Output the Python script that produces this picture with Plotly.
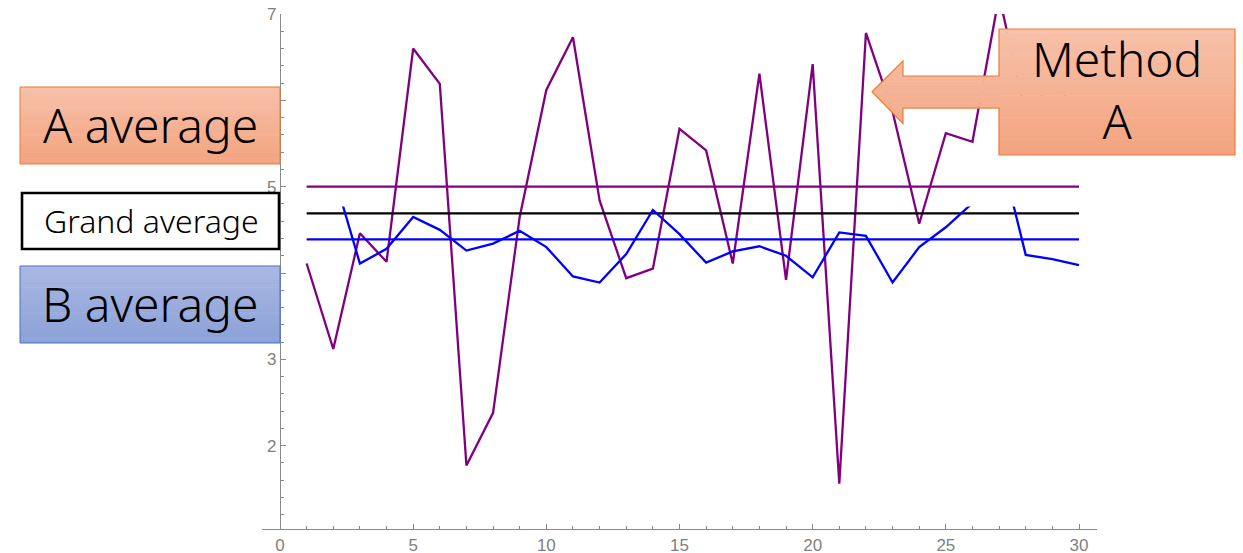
import plotly.graph_objects as go

W, H = 1243, 553

# ---------------- data ----------------
x_vals = list(range(1, 31))
method_a = [4.11, 3.12, 4.46, 4.13, 6.60, 6.19, 1.77, 2.38, 4.65, 6.12,
            6.73, 4.84, 3.94, 4.05, 5.67, 5.42, 4.11, 6.31, 3.92, 6.42,
            1.56, 6.78, 5.87, 4.57, 5.62, 5.52, 7.21, 5.83, 6.20, 5.90]
method_b = [5.20, 5.16, 4.11, 4.28, 4.65, 4.50, 4.26, 4.34, 4.49, 4.30,
            3.96, 3.89, 4.22, 4.73, 4.45, 4.12, 4.25, 4.31, 4.20, 3.95,
            4.47, 4.43, 3.89, 4.30, 4.53, 4.81, 5.46, 4.21, 4.16, 4.09]
a_average = 5.00
grand_average = 4.69
b_average = 4.39
b_clip_top = 4.77          # plot range of the B series (Mathematica clipping)

label_a = "A average"
label_grand = "Grand average"
label_b = "B average"
label_method = "Method<br>A"

# ---------------- geometry ----------------
X_RANGE = [-0.676, 30.676]
Y_RANGE = [1.035, 7.0]
XD = [262 / W, 1097 / W]
YD = [1 - 529 / H, 1 - 14 / H]
clip_top = YD[0] + (b_clip_top - Y_RANGE[0]) / (Y_RANGE[1] - Y_RANGE[0]) * (YD[1] - YD[0])

AX_COL = "#8a8a8a"
TICK_FONT = dict(family="Liberation Sans Narrow, Liberation Sans, Arial, sans-serif", size=17, color="#808080")


def px(x):
    return x / W


def py(y):
    return 1 - y / H


fig = go.Figure()

fig.add_trace(go.Scatter(x=x_vals, y=method_a, mode="lines",
                         line=dict(color="#800080", width=2.3),
                         xaxis="x", yaxis="y", showlegend=False, hoverinfo="skip"))
for val, col in [(a_average, "#800080"), (grand_average, "#000000"), (b_average, "#0000ff")]:
    fig.add_trace(go.Scatter(x=[x_vals[0], x_vals[-1]], y=[val, val], mode="lines",
                             line=dict(color=col, width=2.3),
                             xaxis="x", yaxis="y", showlegend=False, hoverinfo="skip"))
fig.add_trace(go.Scatter(x=x_vals, y=method_b, mode="lines",
                         line=dict(color="#0000ff", width=2.3),
                         xaxis="x2", yaxis="y2", showlegend=False, hoverinfo="skip"))

# ---------------- decoration shapes ----------------
shapes = []


def lerp(c0, c1, t):
    return "rgb(%d,%d,%d)" % tuple(round(a + (b - a) * t) for a, b in zip(c0, c1))


def grad_rect(x0, y0, x1, y1, ctop, cbot, n=40):
    for i in range(n):
        ya = y0 + (y1 - y0) * i / n
        yb = y0 + (y1 - y0) * (i + 1) / n
        shapes.append(dict(type="rect", xref="paper", yref="paper", layer="above",
                           x0=px(x0), x1=px(x1), y0=py(ya), y1=py(min(yb + 0.6, y1)),
                           fillcolor=lerp(ctop, cbot, (i + 0.5) / n), line=dict(width=0)))


def outline_rect(x0, y0, x1, y1, color, width):
    shapes.append(dict(type="rect", xref="paper", yref="paper", layer="above",
                       x0=px(x0), x1=px(x1), y0=py(y0), y1=py(y1),
                       fillcolor="rgba(0,0,0,0)", line=dict(color=color, width=width)))


ORANGE_T, ORANGE_B = (247, 193, 170), (243, 163, 126)
BLUE_T, BLUE_B = (170, 184, 226), (139, 161, 216)

# A average box
grad_rect(20, 87, 280, 164, ORANGE_T, ORANGE_B)
outline_rect(20, 87, 280, 164, "#ED7D31", 1)
# Grand average box
shapes.append(dict(type="rect", xref="paper", yref="paper", layer="above",
                   x0=px(22), x1=px(279), y0=py(193), y1=py(249),
                   fillcolor="white", line=dict(color="black", width=2.6)))
# B average box
grad_rect(20, 266, 280, 343, BLUE_T, BLUE_B)
outline_rect(20, 266, 280, 343, "#4472C4", 1)

# Method A callout (box + left arrow)
BX0, BY0, BX1, BY1 = 999, 29, 1235, 155
TIPX, TIPY = 872, 91.7
HX, HTOP, HBOT = 903, 61, 123.5
STOP, SBOT = 76, 108


def xl(y):
    if y <= TIPY:
        return TIPX + (HX - TIPX) * (TIPY - y) / (TIPY - HTOP)
    return TIPX + (HX - TIPX) * (y - TIPY) / (HBOT - TIPY)


edges = sorted(set([HTOP + (HBOT - HTOP) * i / 40 for i in range(41)] + [STOP, TIPY, SBOT]))
for ya, yb in zip(edges[:-1], edges[1:]):
    ym = (ya + yb) / 2
    xr = BX0 + 1 if STOP <= ym <= SBOT else HX
    t = (ym - BY0) / (BY1 - BY0)
    pts = [(xl(ya), ya), (xr, ya), (xr, yb + 0.5), (xl(yb), yb + 0.5)]
    path = "M " + " L ".join("%f,%f" % (px(a), py(b)) for a, b in pts) + " Z"
    shapes.append(dict(type="path", xref="paper", yref="paper", layer="above", path=path,
                       fillcolor=lerp(ORANGE_T, ORANGE_B, t), line=dict(width=0)))
grad_rect(BX0, BY0, BX1, BY1, ORANGE_T, ORANGE_B)
outline = [(BX0, BY0), (BX1, BY0), (BX1, BY1), (BX0, BY1), (BX0, SBOT), (HX, SBOT),
           (HX, HBOT), (TIPX, TIPY), (HX, HTOP), (HX, STOP), (BX0, STOP)]
shapes.append(dict(type="path", xref="paper", yref="paper", layer="above",
                   path="M " + " L ".join("%f,%f" % (px(a), py(b)) for a, b in outline) + " Z",
                   fillcolor="rgba(0,0,0,0)", line=dict(color="#ED7D31", width=1.2)))

BIG = dict(family="Noto Sans, Open Sans, sans-serif", size=48, color="black", weight=300)
annotations = [
    dict(text=label_a, x=px(150), y=py(124.5), font=BIG),
    dict(text=label_grand, x=px(151), y=py(220.5),
         font=dict(family="Noto Sans, Open Sans, sans-serif", size=32, color="black", weight=300)),
    dict(text=label_b, x=px(150), y=py(303.5), font=BIG),
    dict(text=label_method, x=px(1117), y=py(90), font=BIG),
]
for a in annotations:
    a.update(xref="paper", yref="paper", xanchor="center", yanchor="middle", showarrow=False)

fig.update_layout(
    width=W, height=H,
    margin=dict(l=0, r=0, t=0, b=0, autoexpand=False),
    paper_bgcolor="white", plot_bgcolor="rgba(0,0,0,0)",
    showlegend=False,
    shapes=shapes, annotations=annotations,
    xaxis=dict(domain=XD, range=X_RANGE, anchor="y", showgrid=False, zeroline=False,
               automargin=False,
               showline=True, linecolor=AX_COL, linewidth=1.2,
               tickmode="linear", tick0=0, dtick=5, ticks="inside", ticklen=5,
               tickcolor=AX_COL, tickwidth=1, tickfont=TICK_FONT,
               minor=dict(tick0=0, dtick=1, ticks="inside", ticklen=2.5, tickcolor=AX_COL, tickwidth=1)),
    yaxis=dict(domain=YD, range=Y_RANGE, anchor="free", position=280 / W,
               showgrid=False, zeroline=False, automargin=False,
               showline=True, linecolor=AX_COL, linewidth=1.2,
               tickmode="linear", tick0=0, dtick=1, ticks="inside", ticklen=5,
               tickcolor=AX_COL, tickwidth=1, tickfont=TICK_FONT,
               minor=dict(tick0=0, dtick=0.2, ticks="inside", ticklen=2.5, tickcolor=AX_COL, tickwidth=1)),
    xaxis2=dict(domain=XD, range=X_RANGE, anchor="y2", visible=False, automargin=False),
    yaxis2=dict(domain=[YD[0], clip_top], range=[Y_RANGE[0], b_clip_top], anchor="x2",
                visible=False, automargin=False),
)

post = ("document.documentElement.style.margin='0';document.documentElement.style.padding='0';"
        "document.body.style.margin='0';document.body.style.padding='0';"
        "document.body.style.overflow='hidden';document.documentElement.style.overflow='hidden';"
        "var d=document.getElementById('{plot_id}');"
        "d.style.position='fixed';d.style.top='0px';d.style.left='0px';")

fig.write_html("out.html", config={"displayModeBar": False}, post_script=post)
